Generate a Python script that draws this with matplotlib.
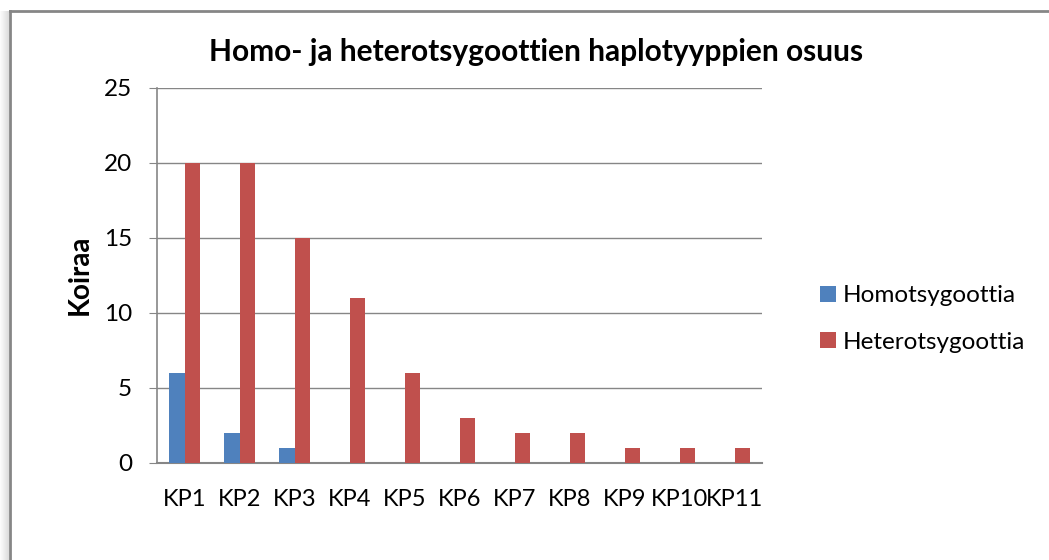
import matplotlib
matplotlib.use("Agg")
import matplotlib.pyplot as plt
from matplotlib.patches import Rectangle
from matplotlib.lines import Line2D
import numpy as np

plt.rcParams['font.family'] = ['Lato', 'DejaVu Sans']

categories = ['KP1', 'KP2', 'KP3', 'KP4', 'KP5', 'KP6', 'KP7', 'KP8', 'KP9', 'KP10', 'KP11']
homo = [6, 2, 1, 0, 0, 0, 0, 0, 0, 0, 0]
hetero = [20, 20, 15, 11, 6, 3, 2, 2, 1, 1, 1]
series_names = ['Homotsygoottia', 'Heterotsygoottia']
title = 'Homo- ja heterotsygoottien haplotyyppien osuus'
ylabel = 'Koiraa'

W, H = 1049, 560
fig = plt.figure(figsize=(W / 100, H / 100), dpi=100)
fig.patch.set_facecolor('white')

# kehys + varjo vasemmalla
for i in range(9):
    fig.patches.append(Rectangle((i / W, 0), 1 / W, (H - 11) / H, transform=fig.transFigure,
                                 facecolor='black', alpha=0.015 * (i + 1), edgecolor='none'))
fig.lines.append(Line2D([10 / W, 1], [(H - 11) / H, (H - 11) / H], transform=fig.transFigure,
                        color='#868686', lw=2))
fig.lines.append(Line2D([10 / W, 10 / W], [0, (H - 11) / H], transform=fig.transFigure,
                        color='#868686', lw=2))

ax = fig.add_axes([157 / W, (H - 462.7) / H, (762 - 157) / W, 375 / H])

grid_c = '#868686'
x = np.arange(len(categories))
w = 0.28
ax.bar(x - w / 2, homo, width=w, color='#4F81BD', label=series_names[0], zorder=3)
ax.bar(x + w / 2, hetero, width=w, color='#C0504D', label=series_names[1], zorder=3)

ax.set_xlim(-0.5, len(categories) - 0.5)
ax.set_ylim(0, 25)
ax.set_yticks(range(0, 26, 5))
ax.set_xticks(x)
ax.set_xticklabels(categories)
ax.yaxis.grid(True, color=grid_c, lw=1, zorder=0)
for s in ['top', 'right']:
    ax.spines[s].set_visible(False)
ax.spines['left'].set_color(grid_c)
ax.spines['bottom'].set_color(grid_c)
ax.spines['left'].set_linewidth(1.2)
ax.spines['bottom'].set_linewidth(1.5)
ax.tick_params(axis='y', length=6, color=grid_c, labelsize=17.5, pad=12)
ax.tick_params(axis='x', length=0, labelsize=17, pad=19)
ax.set_ylabel(ylabel, fontsize=20, fontweight='bold')
ax.yaxis.set_label_coords(-0.107, 0.5)

fig.text(536 / W, (H - 52) / H, title, fontsize=21.5, fontweight='bold', ha='center', va='center')

fig.legend(loc='center left', bbox_to_anchor=(820 / W, (H - 319) / H), frameon=False,
           fontsize=17.5, handlelength=0.65, handleheight=0.65, handletextpad=0.3,
           labelspacing=1.05, borderpad=0, borderaxespad=0)

fig.savefig('out.png', dpi=100)
